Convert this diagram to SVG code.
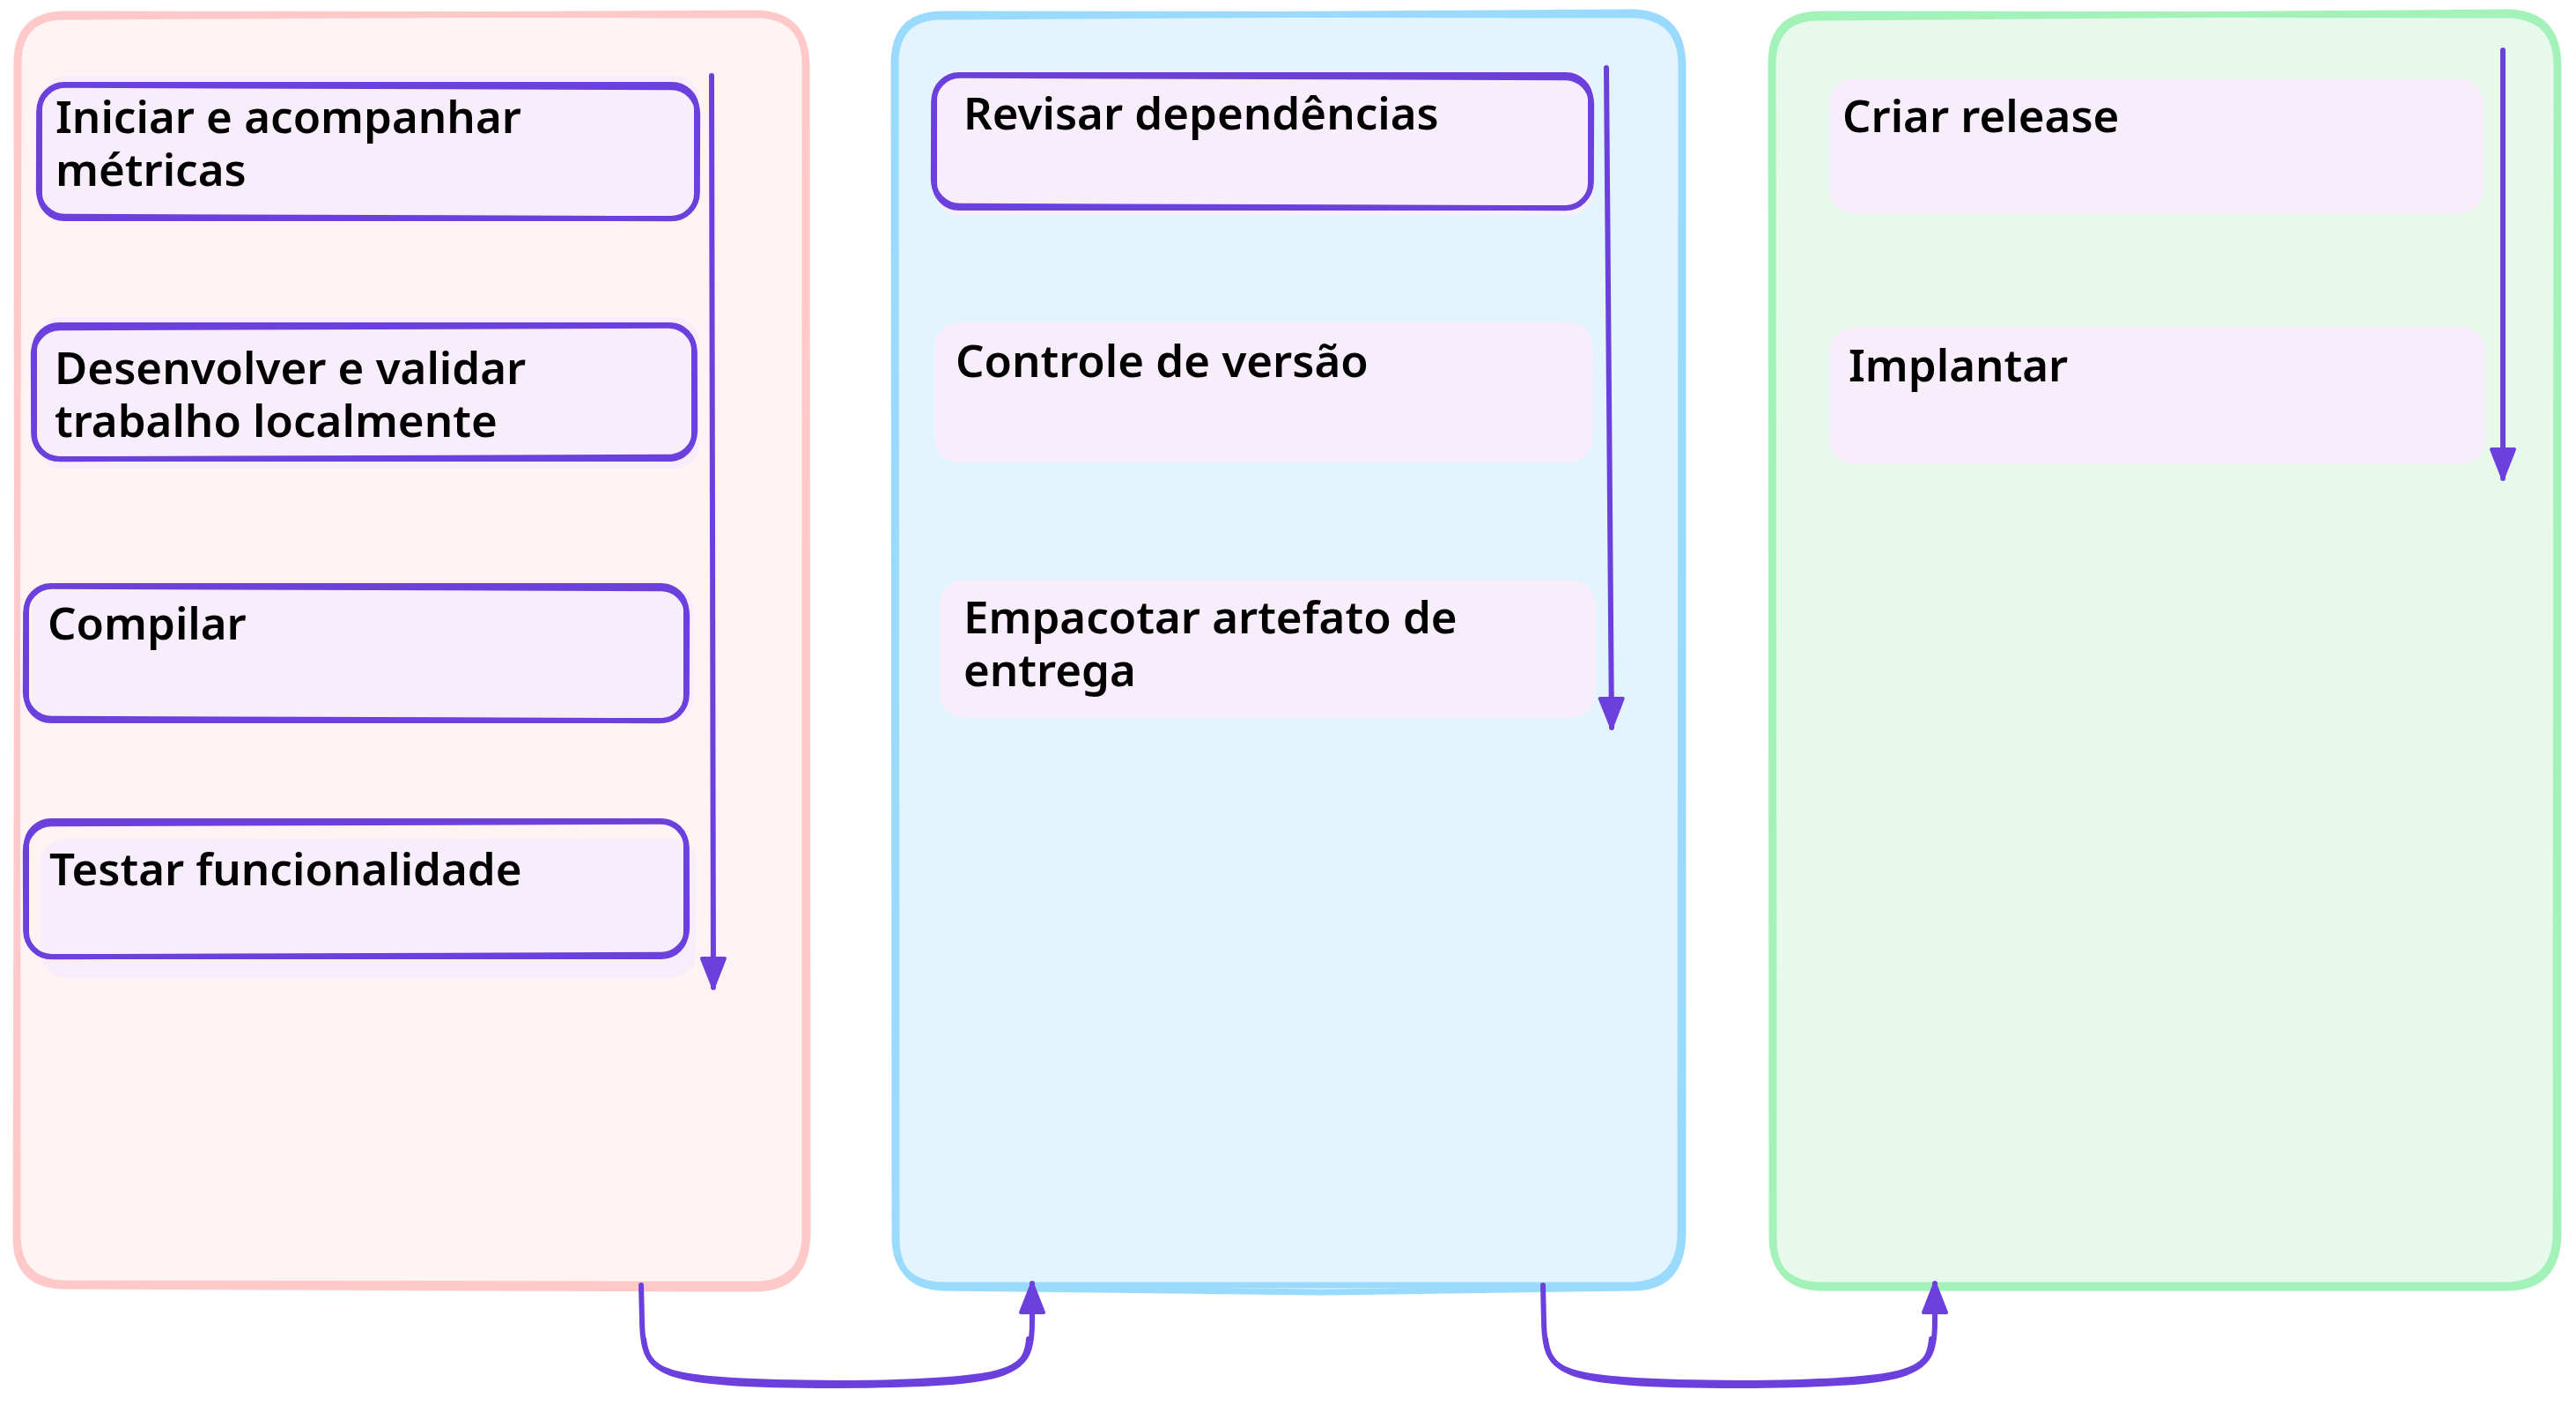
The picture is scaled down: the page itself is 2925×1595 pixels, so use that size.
<svg xmlns="http://www.w3.org/2000/svg" width="2925" height="1595" viewBox="0 0 2925 1595">
<style>
.bg{fill:#ffffff}
.panel-pink{fill:#fff3f3;stroke:#ffc9c9;stroke-width:7;stroke-linejoin:round;stroke-linecap:round}
.panel-blue{fill:#e2f4fe;stroke:#9adafd;stroke-width:7;stroke-linejoin:round;stroke-linecap:round}
.panel-green{fill:#e6f9eb;stroke:#a3f2ba;stroke-width:7;stroke-linejoin:round;stroke-linecap:round}
.pass2{fill:none}
.nfill{fill:#f8edfa;stroke:none}
.nstroke{fill:none;stroke:#6c40dd;stroke-width:6;stroke-linejoin:round;stroke-linecap:round}
.lbl{font-family:"Noto Sans","Open Sans","DejaVu Sans",sans-serif;font-size:51px;font-weight:600;fill:#000000}
.conn{fill:none;stroke:#6c40dd;stroke-width:6;stroke-linecap:round;stroke-linejoin:round}
</style>
<defs>
<marker id="ah" viewBox="0 0 38 34" refX="36" refY="17" markerWidth="38" markerHeight="34" markerUnits="userSpaceOnUse" orient="auto">
<path d="M3,4 L36,17 L3,30 Z" fill="#6c40dd" stroke="#6c40dd" stroke-width="4" stroke-linejoin="round"/>
</marker>
</defs>
<rect class="bg" x="0" y="0" width="2925" height="1595"/>

<g id="panel-pink">
<path class="panel-pink" d="M75,16 L859,17 Q915,18 914,74 L914,1402 Q913,1458 857,1458 L75,1457 Q19,1456 20,1400 L19,72 Q19,16 75,16 Z"/>
<path class="panel-pink pass2" d="M72,19 L860,15 Q916,17 916,76 L917,1400 Q916,1461 860,1463 L70,1460 Q18,1458 18,1404 L21,70 Q22,19 72,19"/>
</g>
<g id="panel-blue">
<path class="panel-blue" d="M1071,16 L1853,17 Q1909,18 1909,74 L1908,1402 Q1907,1458 1851,1459 L1071,1459 Q1015,1458 1016,1402 L1015,72 Q1015,16 1071,16 Z"/>
<path class="panel-blue pass2" d="M1068,19 L1855,14 Q1911,16 1911,76 L1911,1400 Q1910,1462 1854,1462 L1500,1467 L1070,1462 Q1017,1460 1018,1404 L1017,70 Q1018,19 1068,19"/>
</g>
<g id="panel-green">
<path class="panel-green" d="M2067,16 L2847,17 Q2903,18 2903,74 L2902,1402 Q2901,1458 2845,1459 L2067,1459 Q2011,1458 2012,1402 L2011,72 Q2011,16 2067,16 Z"/>
<path class="panel-green pass2" d="M2064,20 L2849,14 Q2905,16 2905,76 L2905,1400 Q2904,1461 2848,1462 L2066,1462 Q2013,1460 2014,1404 L2013,72 Q2014,20 2064,20"/>
</g>

<g id="node-iniciar">
<rect class="nfill" x="48" y="86" width="746" height="160" rx="28"/>
<rect class="nstroke" x="45" y="96" width="746" height="152" rx="28"/>
<rect class="nstroke" x="44" y="98" width="748" height="149" rx="30" transform="rotate(0.2 418 172)"/>
<text class="lbl" x="63" y="151">Iniciar e acompanhar<tspan x="63" dy="60">métricas</tspan></text>
</g>
<g id="node-desenvolver">
<rect class="nfill" x="42" y="360" width="752" height="172" rx="28"/>
<rect class="nstroke" x="39" y="369" width="749" height="152" rx="28"/>
<rect class="nstroke" x="38" y="371" width="751" height="149" rx="30" transform="rotate(-0.2 414 445)"/>
<text class="lbl" x="62" y="436">Desenvolver e validar<tspan x="62" dy="60">trabalho localmente</tspan></text>
</g>
<g id="node-compilar">
<rect class="nfill" x="36" y="667" width="752" height="152" rx="28"/>
<rect class="nstroke" x="30" y="665" width="749" height="153" rx="28"/>
<rect class="nstroke" x="29" y="667" width="751" height="150" rx="30" transform="rotate(0.2 405 741)"/>
<text class="lbl" x="54" y="726">Compilar</text>
</g>
<g id="node-testar">
<rect class="nfill" x="46" y="952" width="745" height="158" rx="28"/>
<rect class="nstroke" x="30" y="932" width="749" height="154" rx="28"/>
<rect class="nstroke" x="29" y="934" width="751" height="151" rx="30" transform="rotate(-0.2 405 1009)"/>
<text class="lbl" x="56" y="1005">Testar funcionalidade</text>
</g>

<g id="node-revisar">
<rect class="nfill" x="1061" y="80" width="748" height="165" rx="28"/>
<rect class="nstroke" x="1061" y="85" width="745" height="151" rx="28"/>
<rect class="nstroke" x="1060" y="87" width="747" height="148" rx="30" transform="rotate(0.2 1433 160)"/>
<text class="lbl" x="1094" y="147">Revisar dependências</text>
</g>
<g id="node-controle">
<rect class="nfill" x="1061" y="366" width="748" height="159" rx="28"/>
<text class="lbl" x="1085" y="428">Controle de versão</text>
</g>
<g id="node-empacotar">
<rect class="nfill" x="1067" y="658" width="745" height="157" rx="28"/>
<text class="lbl" x="1094" y="719">Empacotar artefato de<tspan x="1094" dy="60">entrega</tspan></text>
</g>

<g id="node-criar">
<rect class="nfill" x="2077" y="89" width="743" height="154" rx="28"/>
<text class="lbl" x="2092" y="150">Criar release</text>
</g>
<g id="node-implantar">
<rect class="nfill" x="2077" y="371" width="746" height="156" rx="28"/>
<text class="lbl" x="2099" y="433">Implantar</text>
</g>

<g id="connectors">
<path class="conn" d="M808,86 L809,600 L810,1121" marker-end="url(#ah)"/>
<path class="conn" d="M1824,77 L1827,450 L1830,826" marker-end="url(#ah)"/>
<path class="conn" d="M2842,57 L2842,300 L2842,543" marker-end="url(#ah)"/>
<path class="conn" d="M728,1459 L729,1500 C730,1562 745,1572 950,1573 C1158,1572 1172,1560 1172,1500 L1172,1457" marker-end="url(#ah)"/>
<path class="conn" d="M731,1520 C736,1560 752,1568 950,1570 C1150,1569 1165,1556 1168,1520"/>
<path class="conn" d="M1752,1459 L1753,1500 C1754,1562 1769,1572 1975,1573 C2183,1572 2197,1560 2197,1500 L2197,1457" marker-end="url(#ah)"/>
<path class="conn" d="M1755,1520 C1760,1560 1776,1568 1975,1570 C2175,1569 2190,1556 2193,1520"/>
</g>
</svg>
